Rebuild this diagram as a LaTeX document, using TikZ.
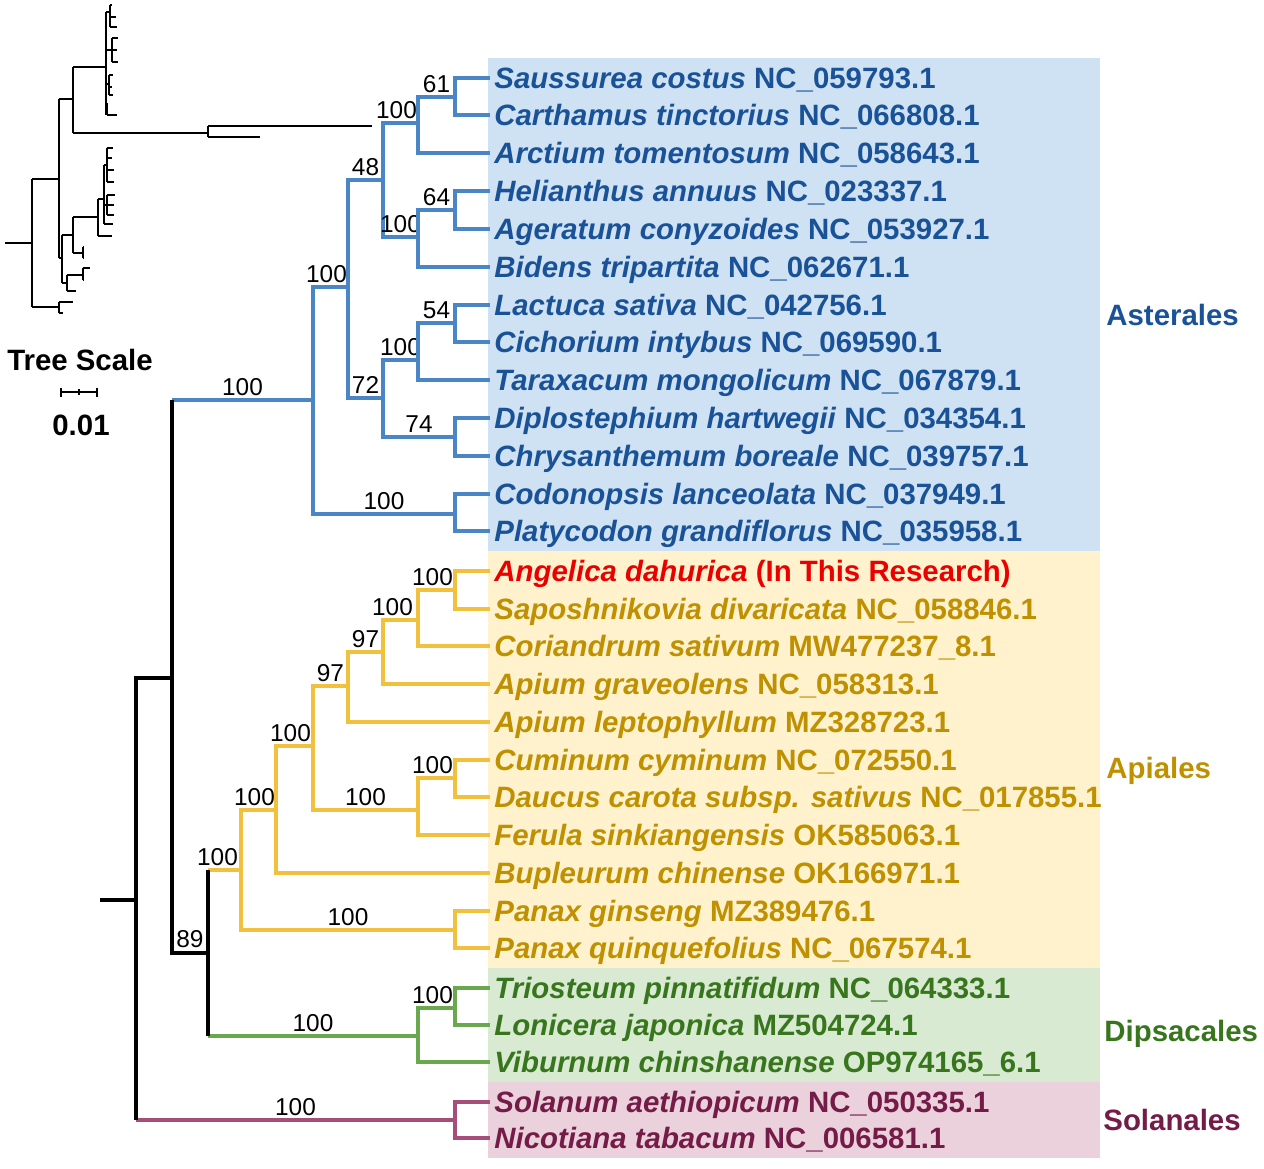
\documentclass[tikz,border=0pt]{standalone}
\usepackage{fontspec}
\setmainfont{Liberation Sans}

\definecolor{astline}{RGB}{74,134,197}
\definecolor{asttext}{RGB}{26,82,152}
\definecolor{astbg}{RGB}{207,226,243}
\definecolor{apiline}{RGB}{241,192,60}
\definecolor{apitext}{RGB}{191,144,0}
\definecolor{apibg}{RGB}{255,242,204}
\definecolor{dipline}{RGB}{106,168,79}
\definecolor{diptext}{RGB}{56,118,29}
\definecolor{dipbg}{RGB}{217,234,211}
\definecolor{solline}{RGB}{166,77,121}
\definecolor{soltext}{RGB}{116,27,71}
\definecolor{solbg}{RGB}{234,209,220}
\definecolor{newred}{RGB}{235,0,0}

\newcommand{\taxon}[2]{\textit{#1} #2}

\begin{document}
\begin{tikzpicture}[x=0.5pt, y=-0.5pt,
    leaf/.style={anchor=west, inner xsep=2pt, inner ysep=0pt, text height=10.5pt, text depth=0pt,
      font=\fontsize{14.7}{14.7}\selectfont\bfseries},
    order/.style={leaf, inner xsep=0pt},
    bs/.style={pos=.75, anchor=south, inner sep=1.5pt, text=black, font=\fontsize{12.2}{12.2}\selectfont},
    sb/.style={bs, xshift=-2pt},
    bb/.style={line width=2pt, black},
    ast/.style={line width=1.6pt, astline},
    api/.style={line width=1.6pt, apiline},
    dip/.style={line width=1.6pt, dipline},
    sol/.style={line width=1.6pt, solline},
    inset/.style={line width=0.8pt, black}]
    \useasboundingbox (0,0) rectangle (1264,1168);

    % order boxes
    \fill[astbg] (488,58) rectangle (1100,551);
    \fill[apibg] (488,551) rectangle (1100,968);
    \fill[dipbg] (488,968) rectangle (1100,1082);
    \fill[solbg] (488,1082) rectangle (1100,1158);

    % tips
    \node (saus) [leaf, text=asttext] at (490,78) {\taxon{Saussurea costus}{NC\_059793.1}};
    \node (cart) [leaf, text=asttext] at (490,115) {\taxon{Carthamus tinctorius}{NC\_066808.1}};
    \node (arct) [leaf, text=asttext] at (490,153) {\taxon{Arctium tomentosum}{NC\_058643.1}};
    \node (heli) [leaf, text=asttext] at (490,191) {\taxon{Helianthus annuus}{NC\_023337.1}};
    \node (ager) [leaf, text=asttext] at (490,229) {\taxon{Ageratum conyzoides}{NC\_053927.1}};
    \node (bide) [leaf, text=asttext] at (490,267) {\taxon{Bidens tripartita}{NC\_062671.1}};
    \node (lact) [leaf, text=asttext] at (490,305) {\taxon{Lactuca sativa}{NC\_042756.1}};
    \node (cich) [leaf, text=asttext] at (490,342) {\taxon{Cichorium intybus}{NC\_069590.1}};
    \node (tara) [leaf, text=asttext] at (490,380) {\taxon{Taraxacum mongolicum}{NC\_067879.1}};
    \node (dipl) [leaf, text=asttext] at (490,418) {\taxon{Diplostephium hartwegii}{NC\_034354.1}};
    \node (chry) [leaf, text=asttext] at (490,456) {\taxon{Chrysanthemum boreale}{NC\_039757.1}};
    \node (codo) [leaf, text=asttext] at (490,494) {\taxon{Codonopsis lanceolata}{NC\_037949.1}};
    \node (plat) [leaf, text=asttext] at (490,531) {\taxon{Platycodon grandiflorus}{NC\_035958.1}};
    \node (ange) [leaf, text=newred] at (490,571) {\taxon{Angelica dahurica}{(In This Research)}};
    \node (sapo) [leaf, text=apitext] at (490,609) {\taxon{Saposhnikovia divaricata}{NC\_058846.1}};
    \node (cori) [leaf, text=apitext] at (490,646) {\taxon{Coriandrum sativum}{MW477237\_8.1}};
    \node (apgr) [leaf, text=apitext] at (490,684) {\taxon{Apium graveolens}{NC\_058313.1}};
    \node (aple) [leaf, text=apitext] at (490,722) {\taxon{Apium leptophyllum}{MZ328723.1}};
    \node (cumi) [leaf, text=apitext] at (490,760) {\taxon{Cuminum cyminum}{NC\_072550.1}};
    \node (dauc) [leaf, text=apitext] at (490,797) {\taxon{Daucus carota subsp. sativus}{NC\_017855.1}};
    \node (feru) [leaf, text=apitext] at (490,835) {\taxon{Ferula sinkiangensis}{OK585063.1}};
    \node (bupl) [leaf, text=apitext] at (490,873) {\taxon{Bupleurum chinense}{OK166971.1}};
    \node (pgin) [leaf, text=apitext] at (490,911) {\taxon{Panax ginseng}{MZ389476.1}};
    \node (pqui) [leaf, text=apitext] at (490,948) {\taxon{Panax quinquefolius}{NC\_067574.1}};
    \node (trio) [leaf, text=diptext] at (490,988) {\taxon{Triosteum pinnatifidum}{NC\_064333.1}};
    \node (loni) [leaf, text=diptext] at (490,1025) {\taxon{Lonicera japonica}{MZ504724.1}};
    \node (vibu) [leaf, text=diptext] at (490,1062) {\taxon{Viburnum chinshanense}{OP974165\_6.1}};
    \node (sola) [leaf, text=soltext] at (490,1102) {\taxon{Solanum aethiopicum}{NC\_050335.1}};
    \node (nico) [leaf, text=soltext] at (490,1138) {\taxon{Nicotiana tabacum}{NC\_006581.1}};

    % order names
    \node (asterales) [order, text=asttext] at (1106,315) {Asterales};
    \node (apiales) [order, text=apitext] at (1106,768) {Apiales};
    \node (dipsacales) [order, text=diptext] at (1104,1031) {Dipsacales};
    \node (solanales) [order, text=soltext] at (1103,1120) {Solanales};

    % internal nodes
    \coordinate (root) at (100,900);
    \coordinate (n0) at (136,900);
    \coordinate (n1) at (172,678);
    \coordinate (n89) at (208,953);
    \coordinate (ast) at (313,400);
    \coordinate (a100) at (348,287);
    \coordinate (a48) at (383,180);
    \coordinate (a72) at (383,398);
    \coordinate (a100b) at (418,123);
    \coordinate (a100c) at (418,237);
    \coordinate (a100d) at (418,360);
    \coordinate (a61) at (455,97);
    \coordinate (a64) at (455,210);
    \coordinate (a54) at (455,323);
    \coordinate (a74) at (455,437);
    \coordinate (cod) at (455,514);
    \coordinate (api) at (241,870);
    \coordinate (p1) at (276,810);
    \coordinate (p2) at (313,746);
    \coordinate (p3) at (348,686);
    \coordinate (p4) at (418,810);
    \coordinate (p5) at (383,652);
    \coordinate (p6) at (418,620);
    \coordinate (p7) at (455,590);
    \coordinate (p8) at (455,778);
    \coordinate (panax) at (455,930);
    \coordinate (dip) at (418,1036);
    \coordinate (d1) at (455,1008);
    \coordinate (sol) at (455,1120);

    % Asterales
    \draw[ast] (n1 |- ast) -- node[bs, pos=.5] {100} (ast);
    \draw[ast] (ast) |- node[sb] {100} (a100);
    \draw[ast] (ast) |- node[bs] {100} (cod);
    \draw[ast] (a100) |- node[bs] {48} (a48);
    \draw[ast] (a100) |- node[bs] {72} (a72);
    \draw[ast] (a48) |- node[sb] {100} (a100b);
    \draw[ast] (a48) |- node[bs] {100} (a100c);
    \draw[ast] (a100b) |- node[bs] {61} (a61);
    \draw[ast] (a100b) |- (arct);
    \draw[ast] (a61) |- (saus) (a61) |- (cart);
    \draw[ast] (a100c) |- node[bs] {64} (a64);
    \draw[ast] (a100c) |- (bide);
    \draw[ast] (a64) |- (heli) (a64) |- (ager);
    \draw[ast] (a72) |- node[bs] {100} (a100d);
    \draw[ast] (a72) |- node[bs] {74} (a74);
    \draw[ast] (a100d) |- node[bs] {54} (a54);
    \draw[ast] (a100d) |- (tara);
    \draw[ast] (a54) |- (lact) (a54) |- (cich);
    \draw[ast] (a74) |- (dipl) (a74) |- (chry);
    \draw[ast] (cod) |- (codo) (cod) |- (plat);

    % Apiales
    \draw[api] (n89 |- api) -- node[sb, pos=.5, xshift=-1.5pt] {100} (api);
    \draw[api] (api) |- node[sb] {100} (p1);
    \draw[api] (api) |- node[bs] {100} (panax);
    \draw[api] (p1) |- node[sb] {100} (p2);
    \draw[api] (p1) |- (bupl);
    \draw[api] (p2) |- node[bs] {97} (p3);
    \draw[api] (p2) |- node[bs] {100} (p4);
    \draw[api] (p3) |- node[bs] {97} (p5);
    \draw[api] (p3) |- (aple);
    \draw[api] (p5) |- node[sb, xshift=-2pt] {100} (p6);
    \draw[api] (p5) |- (apgr);
    \draw[api] (p6) |- node[sb] {100} (p7);
    \draw[api] (p6) |- (cori);
    \draw[api] (p7) |- (ange) (p7) |- (sapo);
    \draw[api] (p4) |- node[sb] {100} (p8);
    \draw[api] (p4) |- (feru);
    \draw[api] (p8) |- (cumi) (p8) |- (dauc);
    \draw[api] (panax) |- (pgin) (panax) |- (pqui);

    % Dipsacales
    \draw[dip] (n89 |- dip) -- node[bs, pos=.5] {100} (dip);
    \draw[dip] (dip) |- node[sb] {100} (d1);
    \draw[dip] (dip) |- (vibu);
    \draw[dip] (d1) |- (trio) (d1) |- (loni);

    % Solanales
    \draw[sol] (n0 |- sol) -- node[bs, pos=.5] {100} (sol);
    \draw[sol] (sol) |- (sola) (sol) |- (nico);

    % backbone
    \draw[bb] (root) -- (n0);
    \draw[bb] (n0) |- (n1);
    \draw[bb] (n1) |- node[bs] {89} (n89);
    \draw[bb] (n1) -- (n1 |- ast);
    \draw[bb] (n89) -- (n89 |- api);
    \draw[bb] (n89) -- (n89 |- dip);
    \draw[bb] (n0) -- (n0 |- sol);

    % small overview tree
    \draw[inset] (5,243) -- (32,243) (32,179) -- (32,307);
    \draw[inset] (32,179) -- (59,179) (59,99) -- (59,258);
    \draw[inset] (59,99) -- (73,99) (73,67) -- (73,133);
    \draw[inset] (73,67) -- (106,67) (106,12) -- (106,115);
    \draw[inset] (106,12) -- (110,12) (110,5) -- (110,27) (110,5) -- (112,5) (110,17) -- (116,17) (110,27) -- (117,27);
    \draw[inset] (106,50) -- (112,50) (112,38) -- (112,62) (112,38) -- (118,38) (112,50) -- (117,50) (112,62) -- (118,62);
    \draw[inset] (106,84) -- (109,84) (109,75) -- (109,95) (109,75) -- (113,75) (109,87) -- (112,87) (109,95) -- (113,95);
    \draw[inset] (106,108) -- (107,108) (107,104) -- (107,115) (107,104) -- (108,104) (107,115) -- (117,115);
    \draw[inset] (73,133) -- (208,133) (208,126) -- (208,137) (208,126) -- (372,126) (208,137) -- (260,137);
    \draw[inset] (59,258) -- (62,258) (62,235) -- (62,283);
    \draw[inset] (62,235) -- (73,235) (73,217) -- (73,253);
    \draw[inset] (73,217) -- (98,217) (98,199) -- (98,236) (98,236) -- (112,236);
    \draw[inset] (98,199) -- (104,199) (104,165) -- (104,224) (104,224) -- (113,224);
    \draw[inset] (104,165) -- (107,165) (107,148) -- (107,182) (107,148) -- (113,148) (107,158) -- (112,158) (107,170) -- (114,170) (107,182) -- (114,182);
    \draw[inset] (104,205) -- (107,205) (107,195) -- (107,215) (107,195) -- (115,195) (107,205) -- (114,205) (107,215) -- (114,215);
    \draw[inset] (73,253) -- (83,253) (83,247) -- (83,258) (83,247) -- (84,247) (83,258) -- (84,258);
    \draw[inset] (62,283) -- (67,283) (67,275) -- (67,291) (67,291) -- (76,291);
    \draw[inset] (67,275) -- (83,275) (83,268) -- (83,280) (83,268) -- (90,268) (83,280) -- (84,280);
    \draw[inset] (32,307) -- (59,307) (59,302) -- (59,313) (59,302) -- (73,302) (59,313) -- (63,313);

    % scale
    \node (tscale) [font=\fontsize{14.7}{14.7}\selectfont\bfseries] at (80,360) {Tree Scale};
    \node (tvalue) [font=\fontsize{14.7}{14.7}\selectfont\bfseries] at (81,425) {0.01};
    \draw[inset] (61,392) -- (97,392) (61,388) -- (61,397) (79,389) -- (79,395) (97,388) -- (97,397);
\end{tikzpicture}
\end{document}
